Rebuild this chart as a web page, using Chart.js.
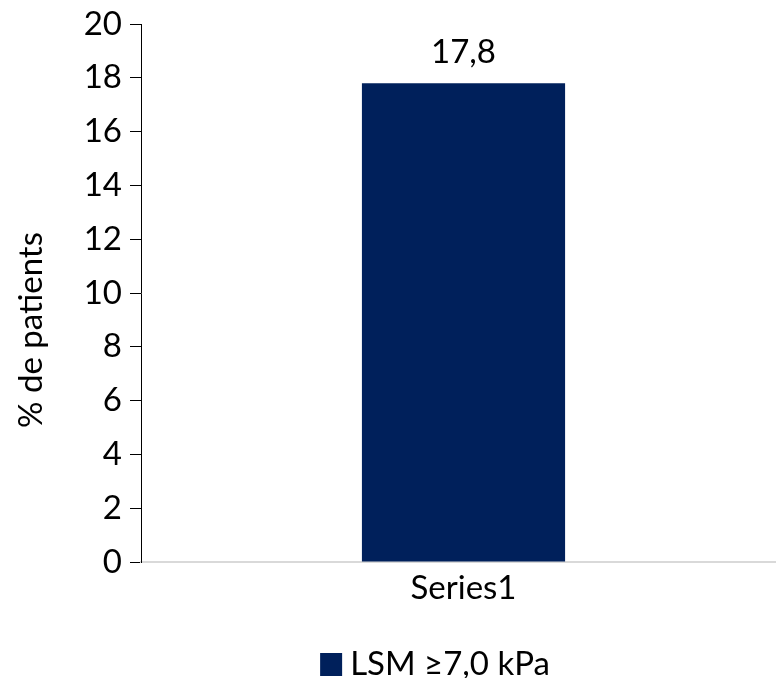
<!DOCTYPE html>
<html>
<head>
<meta charset="utf-8">
<script src="https://cdn.jsdelivr.net/npm/chart.js@4"></script>
<style>
  html, body { margin: 0; padding: 0; background: #fff; overflow: hidden; }
  #wrap { width: 786px; height: 678px; position: relative; }
</style>
</head>
<body>
<div id="wrap"><canvas id="c"></canvas></div>
<script>
const categories = ['Series1'];
const seriesName = 'LSM \u22657,0 kPa';
const seriesValues = [17.8];
const yTicks = [0, 2, 4, 6, 8, 10, 12, 14, 16, 18, 20];
const yTitle = '% de patients';

const FONT = 'Lato, "Open Sans", sans-serif';
const FONT_SIZE = 33;
const BAR_COLOR = '#00205b';

// Value above each bar (decimal comma), rotated y title and bottom legend
const annotations = {
  id: 'annotations',
  afterDraw(chart) {
    const ctx = chart.ctx;
    const area = chart.chartArea;
    ctx.save();
    ctx.font = FONT_SIZE + 'px ' + FONT;
    ctx.fillStyle = '#000';
    ctx.textBaseline = 'alphabetic';

    // bar values
    ctx.textAlign = 'center';
    chart.getDatasetMeta(0).data.forEach((bar, i) => {
      const txt = seriesValues[i].toFixed(1).replace('.', ',');
      ctx.fillText(txt, bar.x, bar.y - 20);
    });

    // y axis title
    ctx.save();
    ctx.translate(42, (area.top + area.bottom) / 2 + 37);
    ctx.rotate(-Math.PI / 2);
    ctx.textAlign = 'center';
    ctx.fillText(yTitle, 0, 0);
    ctx.restore();

    // legend
    const box = 22, gap = 8;
    const textW = ctx.measureText(seriesName).width;
    const total = box + gap + textW;
    const cx = 435;
    const x0 = cx - total / 2;
    const baseY = 675;
    ctx.fillStyle = BAR_COLOR;
    ctx.fillRect(x0, baseY - 22, box, box + 1);
    ctx.fillStyle = '#000';
    ctx.textAlign = 'left';
    ctx.fillText(seriesName, x0 + box + gap, baseY);
    ctx.restore();
  }
};

new Chart(document.getElementById('c'), {
  type: 'bar',
  data: {
    labels: categories,
    datasets: [{
      label: seriesName,
      data: seriesValues,
      backgroundColor: BAR_COLOR,
      borderWidth: 0,
      barPercentage: 0.315,
      categoryPercentage: 1.0
    }]
  },
  options: {
    responsive: true,
    maintainAspectRatio: false,
    animation: false,
    layout: { padding: { top: 24, left: 0, right: 0, bottom: 56 } },
    plugins: {
      legend: { display: false },
      tooltip: { enabled: false }
    },
    scales: {
      x: {
        grid: { display: false, tickLength: 0 },
        border: { color: '#d9d9d9', width: 2 },
        ticks: { color: '#000', font: { family: FONT, size: FONT_SIZE }, padding: 7 },
        afterFit(scale) { scale.height = 60; }
      },
      y: {
        min: 0,
        max: 20,
        afterBuildTicks(scale) { scale.ticks = yTicks.map(v => ({ value: v })); },
        grid: { drawOnChartArea: false, drawTicks: true, tickLength: 11, color: '#000' },
        border: { color: '#000', width: 1 },
        ticks: { color: '#000', font: { family: FONT, size: FONT_SIZE }, padding: 8 },
        afterFit(scale) {
          scale.width = 141;
          scale.paddingTop = 0;
          scale.paddingBottom = 0;
        }
      }
    }
  },
  plugins: [annotations]
});
</script>
</body>
</html>
